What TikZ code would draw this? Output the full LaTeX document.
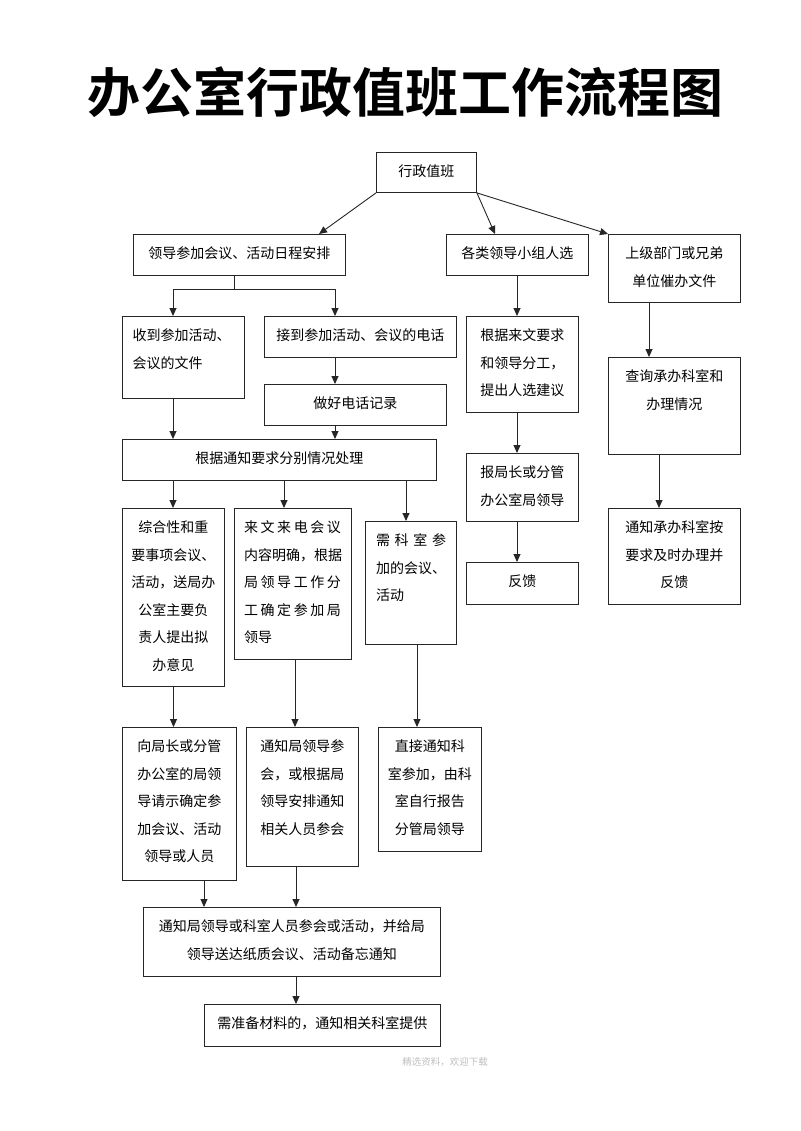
\documentclass[tikz,border=0pt]{standalone}
\usepackage{fontspec}
\setmainfont{Noto Sans CJK SC}[BoldFont={Noto Sans CJK SC Bold}]
\usetikzlibrary{arrows.meta,calc}
\tikzset{
  box/.style={draw=black!85, line width=0.9pt, rectangle, inner sep=0pt, anchor=north west},
  txt/.style={inner sep=0pt, align=center, font=\fontsize{14}{27.5}\selectfont, anchor=north},
  conn/.style={draw=black!85, line width=0.9pt},
  arr/.style={conn, -{Triangle[length=8pt,width=7pt]}}
}
\newcommand{\bx}[5]{\node[box, minimum width=#4-#2, minimum height=#5-#3] (#1) at (#2,#3) {};}
\begin{document}
\begin{tikzpicture}[x=1pt,y=-1pt]
\useasboundingbox (0,0) rectangle (800,1131);
\fill[white] (0,0) rectangle (800,1131);

\node[font=\fontsize{53}{53}\selectfont\bfseries, inner sep=0pt, anchor=base] (title) at (405,113) {办公室行政值班工作流程图};

% boxes
\bx{top}{376}{152}{476}{192}
\bx{A}{133}{234}{345}{275}
\bx{B}{446}{234}{588}{275}
\bx{C}{608}{234}{740}{302}
\bx{A1}{122}{316}{244}{398}
\bx{A2}{264}{316}{456}{357}
\bx{A3}{264}{384}{446}{425}
\bx{B1}{466}{316}{578}{412}
\bx{C1}{608}{357}{740}{454}
\bx{D}{122}{439}{436}{480}
\bx{B2}{466}{453}{578}{521}
\bx{B3}{466}{562}{578}{604}
\bx{C2}{608}{508}{740}{604}
\bx{E1}{122}{508}{224}{686}
\bx{E2}{234}{508}{351}{659}
\bx{E3}{365}{521}{456}{644}
\bx{F1}{122}{727}{236}{880}
\bx{F2}{246}{727}{358}{866}
\bx{F3}{378}{727}{481}{851}
\bx{G}{143}{907}{440}{976}
\bx{H}{204}{1004}{440}{1046}

% texts
\node[txt] (ttop) at ([yshift=-5.5pt]top.north) {\strut 行政值班};
\node[txt] (tA) at ([yshift=-5.5pt]A.north) {\strut 领导参加会议、活动日程安排};
\node[txt] (tB) at ([yshift=-5.5pt]B.north) {\strut 各类领导小组人选};
\node[txt] (tC) at ([yshift=-5.5pt]C.north) {\strut 上级部门或兄弟\\单位催办文件};
\node[txt, align=left, anchor=north west] (tA1) at ([xshift=10.5pt,yshift=-5.5pt]A1.north west) {\strut 收到参加活动、\\会议的文件};
\node[txt] (tA2) at ([yshift=-5.5pt]A2.north) {\strut 接到参加活动、会议的电话};
\node[txt] (tA3) at ([yshift=-5.5pt]A3.north) {\strut 做好电话记录};
\node[txt] (tB1) at ([yshift=-5.5pt]B1.north) {\strut 根据来文要求\\和领导分工，\\提出人选建议};
\node[txt] (tC1) at ([yshift=-5.5pt]C1.north) {\strut 查询承办科室和\\办理情况};
\node[txt] (tD) at ([yshift=-5.5pt]D.north) {\strut 根据通知要求分别情况处理};
\node[txt] (tB2) at ([yshift=-5.5pt]B2.north) {\strut 报局长或分管\\办公室局领导};
\node[txt] (tB3) at ([yshift=-5.5pt]B3.north) {\strut 反馈};
\node[txt] (tC2) at ([yshift=-5.5pt]C2.north) {\strut 通知承办科室按\\要求及时办理并\\反馈};
\node[txt] (tE1) at ([yshift=-5.5pt]E1.north) {\strut 综合性和重\\要事项会议、\\活动，送局办\\公室主要负\\责人提出拟\\办意见};
\node[txt, align=left, anchor=north west] (tE2) at ([xshift=9.8pt,yshift=-5.5pt]E2.north west) {\strut\makebox[97pt][s]{来\hfil 文\hfil 来\hfil 电\hfil 会\hfil 议}\\内容明确，根据\\\makebox[97pt][s]{局\hfil 领\hfil 导\hfil 工\hfil 作\hfil 分}\\\makebox[97pt][s]{工\hfil 确\hfil 定\hfil 参\hfil 加\hfil 局}\\领导};
\node[txt, align=left, anchor=north west] (tE3) at ([xshift=10.8pt,yshift=-5.5pt]E3.north west) {\strut\makebox[70pt][s]{需\hfil 科\hfil 室\hfil 参}\\加的会议、\\活动};
\node[txt] (tF1) at ([yshift=-5.5pt]F1.north) {\strut 向局长或分管\\办公室的局领\\导请示确定参\\加会议、活动\\领导或人员};
\node[txt] (tF2) at ([yshift=-5.5pt]F2.north) {\strut 通知局领导参\\会，或根据局\\领导安排通知\\相关人员参会};
\node[txt] (tF3) at ([yshift=-5.5pt]F3.north) {\strut 直接通知科\\室参加，由科\\室自行报告\\分管局领导};
\node[txt] (tG) at ([yshift=-5.5pt]G.north) {\strut 通知局领导或科室人员参会或活动，并给局\\领导送达纸质会议、活动备忘通知};
\node[txt] (tH) at ([yshift=-5.5pt]H.north) {\strut 需准备材料的，通知相关科室提供};

\node[font=\fontsize{9.5}{10}\selectfont, text=black!25, inner sep=0pt] (wm) at (445,1062) {精选资料，欢迎下载};

% connectors
\draw[arr] (top.south west) -- (A.north -| 319,0);
\draw[arr] (top.south east) -- (B.north -| 495,0);
\draw[arr] (top.south east) -- (C.north west);
\coordinate (jA) at (234,289);
\draw[conn] (A.south -| jA) -- (jA);
\draw[arr] (jA) -| (A1.north -| 173,0);
\draw[arr] (jA) -| (A2.north -| 335,0);
\draw[arr] (A2.south -| 335,0) -- (A3.north -| 335,0);
\draw[arr] (A1.south -| 173,0) -- (D.north -| 173,0);
\draw[arr] (A3.south -| 335,0) -- (D.north -| 335,0);
\draw[arr] (B.south -| 517,0) -- (B1.north -| 517,0);
\draw[arr] (B1.south -| 517,0) -- (B2.north -| 517,0);
\draw[arr] (B2.south -| 517,0) -- (B3.north -| 517,0);
\draw[arr] (C.south -| 649,0) -- (C1.north -| 649,0);
\draw[arr] (C1.south -| 659,0) -- (C2.north -| 659,0);
\draw[arr] (D.south -| 173,0) -- (E1.north -| 173,0);
\draw[arr] (D.south -| 284,0) -- (E2.north -| 284,0);
\draw[arr] (D.south -| 406,0) -- (E3.north -| 406,0);
\draw[arr] (E1.south -| 173.5,0) -- (F1.north -| 173.5,0);
\draw[arr] (E2.south -| 295,0) -- (F2.north -| 295,0);
\draw[arr] (E3.south -| 417,0) -- (F3.north -| 417,0);
\draw[arr] (F1.south -| 204,0) -- (G.north -| 204,0);
\draw[arr] (F2.south -| 296,0) -- (G.north -| 296,0);
\draw[arr] (G.south -| 296,0) -- (H.north -| 296,0);
\end{tikzpicture}
\end{document}
